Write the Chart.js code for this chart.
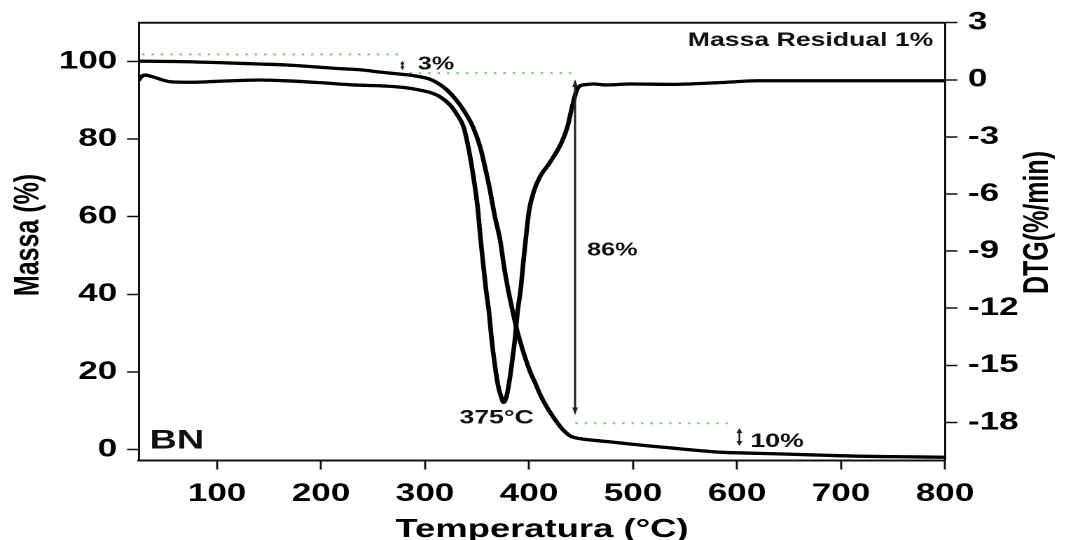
<!DOCTYPE html>
<html>
<head>
<meta charset="utf-8">
<script src="https://cdn.jsdelivr.net/npm/chart.js@4.4.1/dist/chart.umd.min.js"></script>
<style>
html,body{margin:0;padding:0;background:#fff;overflow:hidden;width:1066px;height:540px;}
#wrap{position:absolute;left:0;top:0;width:761px;height:540px;transform-origin:0 0;}
canvas{display:block;}
</style>
</head>
<body>
<div id="wrap"><canvas id="c" width="761" height="540"></canvas></div>
<script>
// ---------- data ----------
const tempTG = [25, 60, 102, 140, 167, 195, 216, 240, 256, 270, 288, 300, 305, 313, 321, 330, 338, 346, 353, 357.6, 362.4, 367.2, 372.2, 376, 380, 384, 388, 392, 396, 401, 406, 411, 417, 423, 430, 436, 441, 449, 465, 480, 497, 520, 540, 560, 584, 620, 648, 680, 712, 750, 800];
const massTG = [100.1, 100.0, 99.7, 99.35, 99.1, 98.6, 98.2, 97.8, 97.3, 96.9, 96.4, 95.8, 95.4, 94.3, 92.7, 90.1, 87.1, 83.2, 78.0, 72.9, 66.9, 60.0, 54.0, 47.1, 41.1, 36.0, 31.2, 27.4, 23.9, 20.1, 17.1, 14.0, 11.0, 8.5, 5.9, 4.2, 3.3, 2.8, 2.3, 1.9, 1.4, 0.8, 0.3, -0.2, -0.7, -1.0, -1.2, -1.45, -1.7, -1.85, -2.0];

const tempDTG = [25, 27, 31, 38, 55, 76, 100, 141, 170, 199, 231, 263, 279, 295, 305, 314, 324, 330, 337, 341.5, 346, 350.5, 353.5, 356, 358.6, 361.5, 364, 367.2, 370.4, 373.5, 375.5, 378.5, 381.5, 384, 386.5, 389, 392, 394.5, 396.8, 400, 405, 410.5, 420, 431, 437, 441.5, 446, 449, 455, 462, 474, 497, 539, 570, 590, 619, 660, 700, 750, 800];
const rateDTG = [0.0, 0.15, 0.25, 0.16, -0.1, -0.13, -0.08, -0.01, -0.06, -0.15, -0.27, -0.33, -0.4, -0.54, -0.67, -0.88, -1.32, -1.76, -2.46, -3.5, -4.9, -6.65, -8.4, -9.7, -11.0, -12.2, -13.6, -15.0, -16.1, -16.7, -16.95, -16.6, -15.7, -14.7, -13.6, -12.2, -11.0, -9.6, -8.4, -6.9, -5.8, -5.1, -4.35, -3.33, -2.46, -1.41, -0.53, -0.32, -0.25, -0.22, -0.27, -0.22, -0.24, -0.18, -0.13, -0.05, -0.05, -0.05, -0.05, -0.05];

const tempTicks = [100, 200, 300, 400, 500, 600, 700, 800];
const massTicks = [0, 20, 40, 60, 80, 100];
const dtgTicks = [-18, -15, -12, -9, -6, -3, 0, 3];

// dotted reference levels (mass %) and their temperature spans
const refLevel = [101.85, 97.0, 6.75];
const refFrom = [28, 285, 444.5];
const refTo = [277.5, 441, 592];

// double arrows: temperature, mass from, mass to
const arrowTemp = [444.3, 278.3, 602.3];
const arrowFrom = [95.4, 100.2, 5.5];
const arrowTo = [8.9, 97.8, 0.9];

// annotation texts anchored in data units (temperature, mass %)
const noteText = ['Massa Residual 1%', '3%', '86%', '10%', '375°C', 'BN'];
const noteTemp = [788.8, 293, 455.9, 612.9, 368.9, 35.2];
const noteMass = [105.3, 99.2, 51.3, 2.0, 8.1, 2.2];

// ---------- layout (the reference is horizontally stretched) ----------
const CW = 761, CH = 540;
const K = 1066 / CW;
document.getElementById('wrap').style.transform = 'scaleX(' + K + ')';
const sx = v => v / K;
const AREA = { left: sx(139), right: sx(945), top: 22.7, bottom: 460.5 };

const LAB = 'Liberation Sans, Arial, sans-serif';
const TICK_FONT = { family: LAB, weight: 'bold', size: 25 };
const noteStyle = [
  { size: 19, align: 'right' },
  { size: 18, align: 'left' },
  { size: 18, align: 'left' },
  { size: 19, align: 'left' },
  { size: 19, align: 'center' },
  { size: 27, align: 'left' }
];
const arrowStyle = [
  { lw: 1.5, hl: 7.5, hw: 2.0 },
  { lw: 1.2, hl: 3.5, hw: 1.6 },
  { lw: 1.3, hl: 5.0, hw: 2.2 }
];

function dblArrow(ctx, px, ya, yb, st) {
  const top = Math.min(ya, yb), bot = Math.max(ya, yb);
  ctx.lineWidth = st.lw;
  ctx.beginPath();
  ctx.moveTo(px, top + st.hl * 0.8);
  ctx.lineTo(px, bot - st.hl * 0.8);
  ctx.stroke();
  ctx.beginPath();
  ctx.moveTo(px, top); ctx.lineTo(px - st.hw, top + st.hl); ctx.lineTo(px + st.hw, top + st.hl); ctx.closePath(); ctx.fill();
  ctx.beginPath();
  ctx.moveTo(px, bot); ctx.lineTo(px - st.hw, bot - st.hl); ctx.lineTo(px + st.hw, bot - st.hl); ctx.closePath(); ctx.fill();
}

const annotPlugin = {
  id: 'annot',
  afterDraw(chart) {
    const { ctx, chartArea: ca } = chart;
    const x = chart.scales.x, y = chart.scales.y;
    ctx.save();
    // top frame line
    ctx.strokeStyle = '#111';
    ctx.lineWidth = 2;
    ctx.beginPath();
    ctx.moveTo(ca.left - 0.75, ca.top);
    ctx.lineTo(ca.right + 0.75, ca.top);
    ctx.stroke();
    // arrows
    ctx.strokeStyle = '#222';
    ctx.fillStyle = '#222';
    arrowTemp.forEach((t, i) => {
      dblArrow(ctx, x.getPixelForValue(t), y.getPixelForValue(arrowFrom[i]), y.getPixelForValue(arrowTo[i]), arrowStyle[i]);
    });
    // texts
    ctx.fillStyle = '#111';
    ctx.textBaseline = 'middle';
    noteText.forEach((s, i) => {
      ctx.font = 'bold ' + noteStyle[i].size + 'px ' + LAB;
      ctx.textAlign = noteStyle[i].align;
      ctx.fillText(s, x.getPixelForValue(noteTemp[i]), y.getPixelForValue(noteMass[i]));
    });
    // vertical axis titles (both read bottom-to-top)
    ctx.fillStyle = '#000';
    ctx.font = 'bold 25px ' + LAB;
    ctx.textAlign = 'center';
    [['Massa (%)', sx(29), 235], ['DTG(%/min)', sx(1038), 222.5]].forEach(([s, px, py]) => {
      ctx.save();
      ctx.translate(px, py);
      ctx.rotate(-Math.PI / 2);
      ctx.fillText(s, 0, 0);
      ctx.restore();
    });
    ctx.restore();
  }
};

const refSets = refLevel.map((lv, i) => ({
  label: 'ref' + i,
  data: [{ x: refFrom[i], y: lv }, { x: refTo[i], y: lv }],
  yAxisID: 'y',
  borderColor: '#7cc67c',
  borderWidth: 2,
  borderDash: [1.7, 5.0],
  pointRadius: 0,
  fill: false,
  tension: 0
}));

new Chart(document.getElementById('c'), {
  type: 'line',
  data: {
    datasets: [
      {
        label: 'TG',
        data: tempTG.map((t, i) => ({ x: t, y: massTG[i] })),
        yAxisID: 'y',
        borderColor: '#000',
        borderWidth: 3.3,
        pointRadius: 0,
        fill: false,
        cubicInterpolationMode: 'monotone',
        borderJoinStyle: 'round',
        borderCapStyle: 'round'
      },
      {
        label: 'DTG',
        data: tempDTG.map((t, i) => ({ x: t, y: rateDTG[i] })),
        yAxisID: 'y2',
        borderColor: '#000',
        borderWidth: 3.3,
        pointRadius: 0,
        fill: false,
        cubicInterpolationMode: 'monotone',
        borderJoinStyle: 'round',
        borderCapStyle: 'round'
      },
      ...refSets
    ]
  },
  options: {
    responsive: false,
    animation: false,
    devicePixelRatio: 2,
    events: [],
    layout: { padding: { top: AREA.top, left: 0, right: 0, bottom: 0 } },
    plugins: { legend: { display: false }, tooltip: { enabled: false }, title: { display: false } },
    scales: {
      x: {
        type: 'linear',
        position: 'bottom',
        min: 25,
        max: 800,
        afterBuildTicks: s => { s.ticks = tempTicks.map(v => ({ value: v })); },
        afterFit: s => { s.height = CH - AREA.bottom; },
        grid: { drawOnChartArea: false, drawTicks: true, tickLength: 9, tickWidth: 1.45, tickColor: '#111' },
        border: { display: true, color: '#111', width: 2 },
        ticks: { color: '#000', font: TICK_FONT, padding: 9.5, maxRotation: 0, autoSkip: false, callback: v => String(v) },
        title: { display: true, text: 'Temperatura (°C)', color: '#000', font: { family: LAB, weight: 'bold', size: 26, lineHeight: 0.8 }, padding: 0 }
      },
      y: {
        type: 'linear',
        position: 'left',
        min: -2.84,
        max: 110,
        afterBuildTicks: s => { s.ticks = massTicks.map(v => ({ value: v })); },
        afterFit: s => { s.width = AREA.left; },
        grid: { drawOnChartArea: false, drawTicks: true, tickLength: sx(12), tickWidth: 1.5, tickColor: '#111' },
        border: { display: true, color: '#111', width: 1.5 },
        ticks: { color: '#000', font: TICK_FONT, padding: 7, callback: v => String(v) },
        title: { display: false }
      },
      y2: {
        type: 'linear',
        position: 'right',
        min: -20,
        max: 3,
        afterBuildTicks: s => { s.ticks = dtgTicks.map(v => ({ value: v })); },
        afterFit: s => { s.width = CW - AREA.right; },
        grid: { drawOnChartArea: false, drawTicks: true, tickLength: sx(12.5), tickWidth: 1.5, tickColor: '#111' },
        border: { display: true, color: '#111', width: 1.5 },
        ticks: { color: '#000', font: TICK_FONT, padding: 7.5, callback: v => String(v) },
        title: { display: false }
      }
    }
  },
  plugins: [annotPlugin]
});
</script>
</body>
</html>
